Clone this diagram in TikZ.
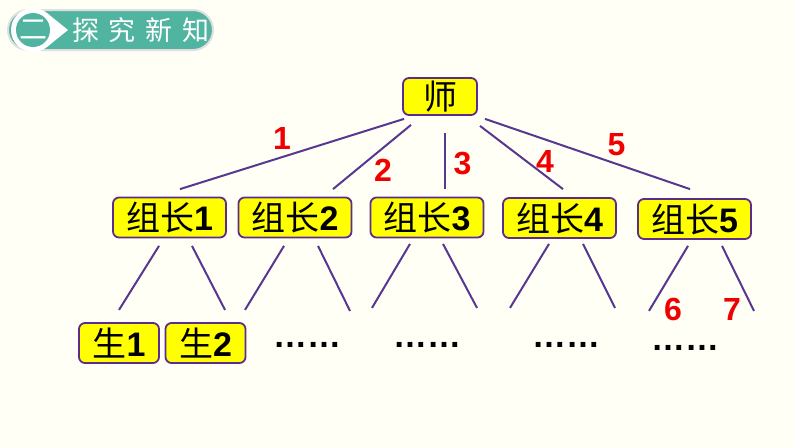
\documentclass[tikz,border=0pt]{standalone}
\usepackage{fontspec}
\setmainfont{Liberation Sans}
\newfontfamily\cjk{Noto Sans CJK SC}
\usepackage{xcolor}
\definecolor{cream}{RGB}{255,255,246}
\definecolor{boxyellow}{RGB}{255,255,0}
\definecolor{boxline}{RGB}{92,45,140}
\definecolor{linkpurple}{RGB}{88,55,145}
\definecolor{numred}{RGB}{240,0,0}
\definecolor{tabteal}{RGB}{80,180,160}

\tikzset{
  member/.style={draw=boxline, line width=1.8pt, fill=boxyellow, rounded corners=6pt,
    inner sep=0pt, minimum height=40pt, font=\fontsize{34}{34}\selectfont},
  leaderbox/.style={member, minimum width=113pt},
  studentbox/.style={member, minimum width=80pt},
  link/.style={draw=linkpurple, line width=2pt},
  num/.style={text=numred, inner sep=0pt, font=\fontsize{32}{32}\selectfont\bfseries},
  dots/.style={anchor=base, inner sep=0pt, font=\fontsize{34}{34}\selectfont\bfseries}
}
\newcommand{\zuzhang}[1]{{\cjk 组长}\textbf{#1}}
\newcommand{\sheng}[1]{{\cjk 生}\textbf{#1}}

\begin{document}
\begin{tikzpicture}[x=1pt,y=-1pt]
\fill[cream] (0,0) rectangle (794,447);
\useasboundingbox (0,0) rectangle (794,447);

% header tab
\draw[fill=tabteal, draw=gray!25, line width=2pt, rounded corners=20pt] (8,10) rectangle (213,50);
\fill[white] (33,30) circle (22);
\fill[white] (46.8,12.9) -- (68,30) -- (46.8,47.1) -- cycle;
\fill[tabteal] (33,30) circle (17);
\node (er) at (33,30) [text=white, inner sep=0pt, font=\fontsize{28}{28}\selectfont\cjk] {二};
\node (title) at (141,30) [text=white, inner sep=0pt, font=\fontsize{27}{27}\selectfont\cjk]
  {探\hspace{10pt}究\hspace{10pt}新\hspace{10pt}知};

% boxes
\node (shi) at (440,96.5) [member, minimum width=74pt, minimum height=37pt] {\cjk 师};
\node (zu1) at (169.5,217.5) [leaderbox] {\zuzhang{1}};
\node (zu2) at (295,217.5) [leaderbox] {\zuzhang{2}};
\node (zu3) at (427,217.5) [leaderbox] {\zuzhang{3}};
\node (zu4) at (559.5,218) [leaderbox] {\zuzhang{4}};
\node (zu5) at (694.5,219) [leaderbox] {\zuzhang{5}};
\node (sh1) at (119,343) [studentbox] {\sheng{1}};
\node (sh2) at (205.5,343) [studentbox] {\sheng{2}};

% teacher to leaders
\draw [link] ([shift={(-36,3)}]shi.south) -- ([shift={(10.5,-7.5)}]zu1.north);
\draw [link] ([shift={(-29,9)}]shi.south) -- ([shift={(38,-7.5)}]zu2.north);
\draw [link] ([shift={(5,17)}]shi.south) -- ([shift={(18,-7.5)}]zu3.north);
\draw [link] ([shift={(40,10)}]shi.south) -- ([shift={(3.5,-8)}]zu4.north);
\draw [link] ([shift={(45,3)}]shi.south) -- ([shift={(-4.5,-9)}]zu5.north);

% leaders to students
\draw [link] ([shift={(-10.5,7.5)}]zu1.south) -- ([shift={(-50.5,71.5)}]zu1.south);
\draw [link] ([shift={(22.5,7.5)}]zu1.south) -- ([shift={(55.5,71.5)}]zu1.south);
\draw [link] ([shift={(-11,7.5)}]zu2.south) -- ([shift={(-50,71.5)}]zu2.south);
\draw [link] ([shift={(23,7.5)}]zu2.south) -- ([shift={(55,72.5)}]zu2.south);
\draw [link] ([shift={(-17,5.5)}]zu3.south) -- ([shift={(-55,69.5)}]zu3.south);
\draw [link] ([shift={(16,5.5)}]zu3.south) -- ([shift={(50,69.5)}]zu3.south);
\draw [link] ([shift={(-10.5,5)}]zu4.south) -- ([shift={(-49.5,69)}]zu4.south);
\draw [link] ([shift={(23.5,5)}]zu4.south) -- ([shift={(55.5,69)}]zu4.south);
\draw [link] ([shift={(-6.5,6)}]zu5.south) -- ([shift={(-45.5,71)}]zu5.south);
\draw [link] ([shift={(27.5,6)}]zu5.south) -- ([shift={(59.5,71)}]zu5.south);

% numbers
\node (n1) at (282,138.5) [num] {1};
\node (n2) at (383,170) [num] {2};
\node (n3) at (462.5,163.5) [num] {3};
\node (n4) at (545,161) [num] {4};
\node (n5) at (616.5,145) [num] {5};
\node (n6) at (673,309.5) [num] {6};
\node (n7) at (732,309.5) [num] {7};

% more students
\node (d2) at (307,347) [dots] {……};
\node (d3) at (427,347) [dots] {……};
\node (d4) at (566,347) [dots] {……};
\node (d5) at (685,350) [dots] {……};
\end{tikzpicture}
\end{document}
